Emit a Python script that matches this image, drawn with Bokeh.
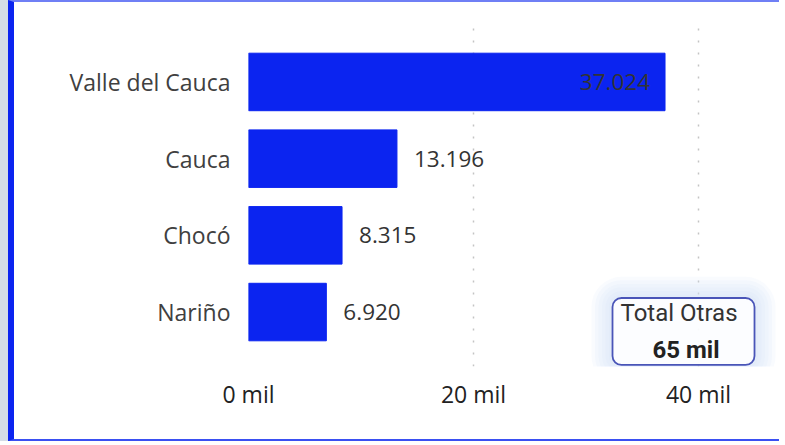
from bokeh.plotting import figure
from bokeh.models import ColumnDataSource, FactorRange, Range1d, FixedTicker, BoxAnnotation, Label
from bokeh.core.properties import value
from bokeh.embed import file_html
from bokeh.resources import INLINE

departamentos = ["Valle del Cauca", "Cauca", "Chocó", "Nariño"]
valores = [37024, 13196, 8315, 6920]
ticks = [0, 20000, 40000]
tick_labels = ["0 mil", "20 mil", "40 mil"]
total_titulo = "Total Otras"
total_valor = "65 mil"

BLUE = "#0B24F0"
TXT = "#404040"
FONT = "Open Sans"

factors = list(reversed(departamentos))
vmax = max(valores)
labels = [f"{v:,}".replace(",", ".") for v in valores]
inside = [v > 0.8 * vmax for v in valores]
src = ColumnDataSource(dict(
    dep=departamentos, val=valores, lab=labels,
    xoff=[-15 if i else 17 for i in inside],
    align=["right" if i else "left" for i in inside],
))

p = figure(width=771, height=441, output_backend="svg", toolbar_location=None,
           y_range=FactorRange(factors=factors, range_padding=0.21, range_padding_units="absolute"),
           x_range=Range1d(0, 47733),
           min_border_left=234, min_border_right=0, min_border_top=25, min_border_bottom=77)
p.styles = {"border-left": f"6px solid {BLUE}", "border-top": "2px solid #6f7ff5",
            "border-bottom": "2px solid #3a50f2",
            "margin-left": "8px", "box-shadow": "-8px 0 0 0 #d5dde6"}
p.outline_line_color = None
p.background_fill_color = "white"
p.border_fill_color = "white"

p.hbar(y="dep", right="val", left=0, height=0.75, source=src, color=BLUE)
p.text(x="val", y="dep", text="lab", source=src, x_offset="xoff", text_align="align",
       text_baseline="middle", text_font=value(FONT), text_font_size="22.5px", text_color="#333333")

# axes
p.xaxis.ticker = FixedTicker(ticks=ticks)
p.xaxis.major_label_overrides = {t: l for t, l in zip(ticks, tick_labels)}
p.xaxis.axis_line_color = None
p.xaxis.major_tick_line_color = None
p.xaxis.minor_tick_line_color = None
p.xaxis.major_tick_out = 0
p.xaxis.major_tick_in = 0
p.xaxis.minor_tick_out = 0
p.xaxis.major_label_standoff = 11
p.xaxis.major_label_text_font = FONT
p.xaxis.major_label_text_font_size = "23px"
p.xaxis.major_label_text_color = "#222222"

p.yaxis.axis_line_color = None
p.yaxis.major_tick_line_color = None
p.yaxis.major_tick_out = 0
p.yaxis.major_tick_in = 0
p.yaxis.major_label_standoff = 18
p.yaxis.major_label_text_font = FONT
p.yaxis.major_label_text_font_size = "23px"
p.yaxis.major_label_text_color = TXT

p.ygrid.grid_line_color = None
p.xgrid.ticker = FixedTicker(ticks=ticks)
p.xgrid.grid_line_color = "#c4c4c4"
p.xgrid.grid_line_dash = "2 10"
p.xgrid.grid_line_width = 1.5

# card "Total Otras"
bx0, bx1, by0, by1 = 32356, 44978, -0.19, 0.683
for k in range(6, 0, -1):
    dx = 311 * k
    dy = 0.046 * k
    p.add_layout(BoxAnnotation(left=bx0 - dx, right=bx1 + dx, bottom=by0 - dy, top=by1 + dy,
                               fill_color="#cfe0f4", fill_alpha=0.13, line_color=None,
                               border_radius=int(9 + 3.5 * k)))
p.add_layout(BoxAnnotation(left=bx0, right=bx1, bottom=by0, top=by1, fill_color="white",
                           fill_alpha=0.88, line_color="#4a55b8", line_alpha=1.0,
                           line_width=1.8, border_radius=9))
p.add_layout(Label(x=33067, y=0.488, text=total_titulo, text_align="left", text_baseline="middle",
                   text_font="Roboto", text_font_size="24px", text_color="#333333"))
p.add_layout(Label(x=35911, y=0.005, text=total_valor, text_align="left", text_baseline="middle",
                   text_font="Roboto", text_font_size="24px", text_font_style="bold",
                   text_color="#222222"))

open("out.html", "w").write(file_html(p, INLINE))
